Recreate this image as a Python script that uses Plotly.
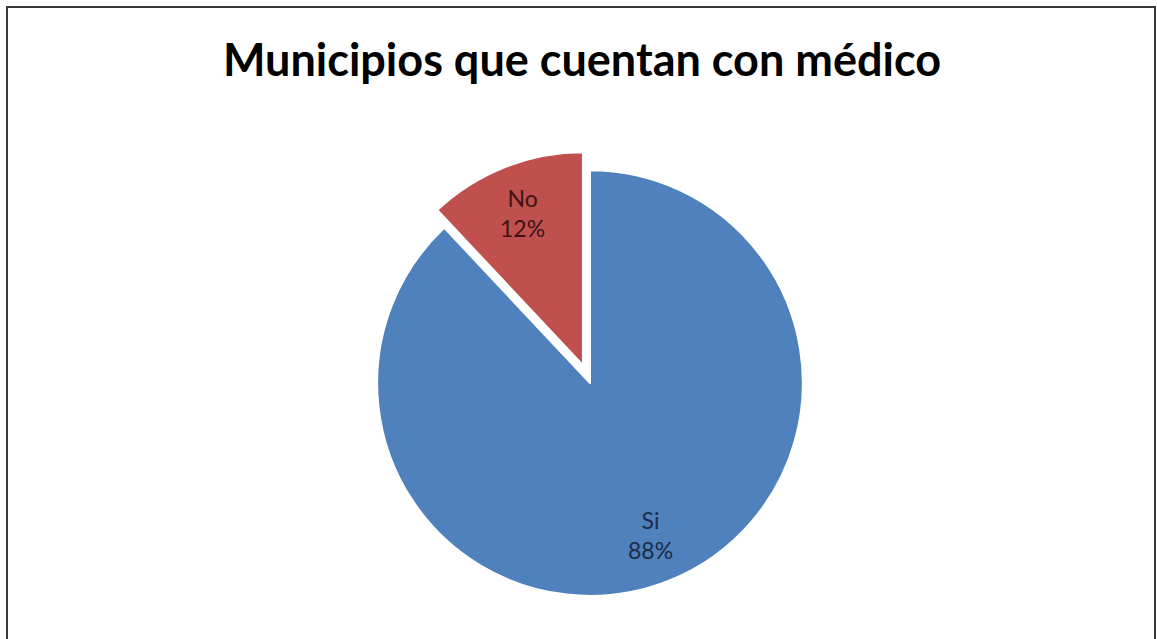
import math
import plotly.graph_objects as go

labels = ["Si", "No"]
values = [88, 12]
colors = ["#4F81BD", "#C0504D"]
label_colors = ["#1c2c48", "#3c1414"]
pulls = [0, 0.09]
label_radius = [0.77, 0.77]  # fraction of radius where each label sits
title_text = "Municipios que cuentan con médico"

W, H = 1157, 639
dom_x = [358 / W, 822 / W]
dom_y = [1 - 615 / H, 1 - 151 / H]

fig = go.Figure(go.Pie(
    labels=labels,
    values=values,
    sort=False,
    direction="clockwise",
    rotation=0,
    pull=pulls,
    marker=dict(colors=colors, line=dict(color="white", width=2)),
    textinfo="none",
    domain=dict(x=dom_x, y=dom_y),
    showlegend=False,
    hoverinfo="label+percent",
))

# label positions derived from slice angles
cx = (dom_x[0] + dom_x[1]) / 2 * W
cy = (1 - (dom_y[0] + dom_y[1]) / 2) * H
side = min((dom_x[1] - dom_x[0]) * W, (dom_y[1] - dom_y[0]) * H)
r = side / 2 / (1 + max(pulls))
total = sum(values)
start = 0.0
annotations = []
for lab, v, p, fr, col in zip(labels, values, pulls, label_radius, label_colors):
    mid = (start + v / 2) / total * 2 * math.pi  # clockwise from top
    start += v
    d = (p + fr) * r
    px = cx + d * math.sin(mid)
    py = cy - d * math.cos(mid)
    annotations.append(dict(
        x=px / W, y=1 - py / H, xref="paper", yref="paper",
        text=f"{lab}<br>{round(100 * v / total)}%",
        showarrow=False, xanchor="center", yanchor="middle",
        font=dict(family="Lato, Open Sans, sans-serif", size=23, color=col),
    ))

fig.update_layout(
    width=W, height=H,
    margin=dict(l=0, r=0, t=0, b=0),
    paper_bgcolor="white",
    plot_bgcolor="white",
    title=dict(
        text="<b>" + title_text + "</b>",
        x=582 / W, xanchor="center",
        y=1 - 60 / H, yanchor="middle",
        font=dict(family="Lato, Open Sans, sans-serif", size=45, color="black"),
    ),
    annotations=annotations,
    shapes=[dict(
        type="rect", xref="paper", yref="paper",
        x0=7 / W, x1=1155 / W, y0=-0.02, y1=1 - 7 / H,
        line=dict(color="#3a3a3a", width=2),
    )],
)

fig.write_html("out.html")
